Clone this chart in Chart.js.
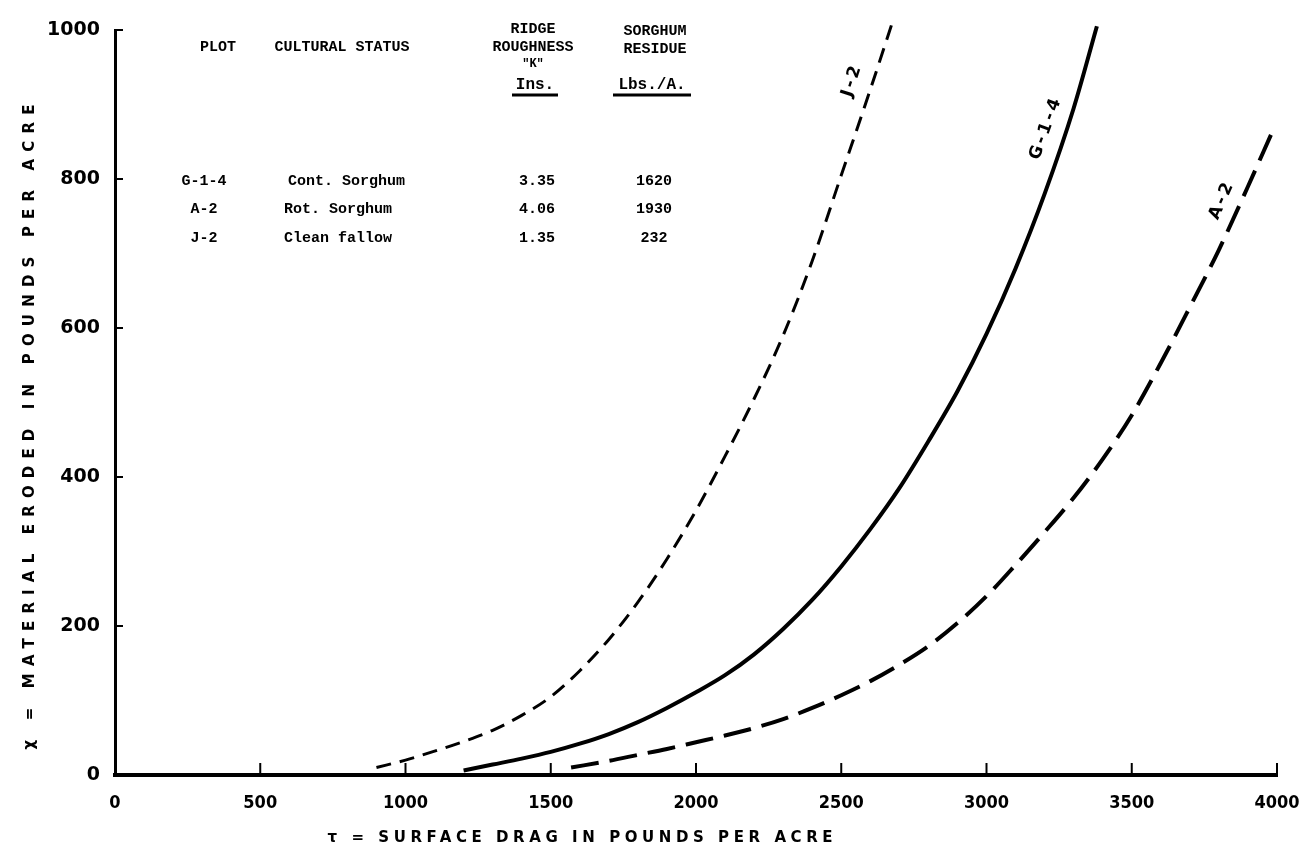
<!DOCTYPE html>
<html>
<head>
<meta charset="utf-8">
<title>Material eroded vs surface drag</title>
<script src="https://cdn.jsdelivr.net/npm/chart.js@4.4.1/dist/chart.umd.min.js"></script>
<style>
    body { margin: 0; background: #fff; }
    #wrap { width: 1304px; height: 855px; position: relative; }
</style>
</head>
<body>
<div id="wrap"><canvas id="erosionChart"></canvas></div>
<script>
// axis ticks
var xTickValues = [0, 500, 1000, 1500, 2000, 2500, 3000, 3500, 4000];
var yTickValues = [0, 200, 400, 600, 800, 1000];

// J-2 clean fallow (short dashes)
var j2Drag = [900, 1000, 1100, 1200, 1300, 1400, 1500, 1600, 1700, 1800, 1900, 2000, 2100, 2200, 2300, 2400, 2500, 2600, 2680];
var j2Eroded = [10, 20, 32, 45, 60, 80, 105, 140, 182, 232, 290, 355, 428, 505, 590, 690, 805, 920, 1015];

// G-1-4 cont. sorghum (solid)
var g14Drag = [1200, 1300, 1400, 1500, 1600, 1700, 1800, 1900, 2000, 2100, 2200, 2300, 2400, 2500, 2600, 2700, 2800, 2900, 3000, 3100, 3200, 3300, 3380];
var g14Eroded = [6, 14, 22, 31, 42, 55, 71, 90, 111, 134, 162, 196, 235, 280, 330, 385, 448, 515, 592, 680, 780, 895, 1005];

// A-2 rot. sorghum (long dashes)
var a2Drag = [1570, 1700, 1800, 1900, 2000, 2100, 2200, 2300, 2400, 2500, 2600, 2700, 2800, 2900, 3000, 3100, 3200, 3300, 3400, 3500, 3600, 3700, 3800, 3900, 3980];
var a2Eroded = [10, 19, 27, 35, 44, 53, 63, 75, 90, 107, 126, 148, 173, 204, 240, 282, 326, 372, 424, 483, 553, 628, 705, 790, 860];

// table in the upper left
var tablePlots = ['G-1-4', 'A-2', 'J-2'];
var tableStatus = ['Cont. Sorghum', 'Rot. Sorghum', 'Clean fallow'];
var tableRoughness = ['3.35', '4.06', '1.35'];
var tableResidue = ['1620', '1930', '232'];

function toPoints(xs, ys) {
    var pts = [];
    for (var i = 0; i < xs.length; i++) {
        pts.push({ x: xs[i], y: ys[i] });
    }
    return pts;
}

// text with spacing stretched to a given width
function spacedText(ctx, text, x, y, width) {
    ctx.letterSpacing = '0px';
    var w = ctx.measureText(text).width;
    var sp = (width - w) / (text.length - 1);
    ctx.letterSpacing = sp + 'px';
    ctx.textAlign = 'left';
    ctx.fillText(text, x - width / 2, y);
    ctx.letterSpacing = '0px';
}

function rotatedLabel(ctx, text, x, y, angle) {
    ctx.save();
    ctx.translate(x, y);
    ctx.rotate(angle * Math.PI / 180);
    ctx.textAlign = 'center';
    ctx.textBaseline = 'middle';
    ctx.letterSpacing = '3px';
    ctx.fillText(text, 0, 0);
    ctx.restore();
}

var paperDecor = {
    id: 'paperDecor',
    afterDraw: function (chart) {
        var ctx = chart.ctx;
        var xs = chart.scales.x;
        var ys = chart.scales.y;
        var area = chart.chartArea;
        ctx.save();
        ctx.strokeStyle = '#000';
        ctx.fillStyle = '#000';

        // inward tick marks
        ctx.lineWidth = 2;
        yTickValues.forEach(function (v) {
            if (v === 0) return;
            var py = ys.getPixelForValue(v);
            ctx.beginPath();
            ctx.moveTo(area.left, py);
            ctx.lineTo(area.left + 8, py);
            ctx.stroke();
        });
        xTickValues.forEach(function (v) {
            if (v === 0) return;
            var px = xs.getPixelForValue(v);
            ctx.beginPath();
            ctx.moveTo(px, area.bottom);
            ctx.lineTo(px, area.bottom - 12);
            ctx.stroke();
        });

        // axis titles
        ctx.font = 'bold 15px "DejaVu Sans"';
        ctx.textBaseline = 'middle';
        spacedText(ctx, '\u03C4 = SURFACE DRAG IN POUNDS PER ACRE', 580, 838, 505);
        ctx.save();
        ctx.translate(30, 427);
        ctx.rotate(-Math.PI / 2);
        spacedText(ctx, '\u03C7 = MATERIAL ERODED IN POUNDS PER ACRE', 0, 0, 645);
        ctx.restore();

        // table headers
        ctx.textAlign = 'center';
        ctx.font = 'bold 15px "Liberation Mono"';
        ctx.fillText('PLOT', 218, 47);
        ctx.fillText('CULTURAL STATUS', 342, 47);
        ctx.fillText('RIDGE', 533, 29);
        ctx.fillText('ROUGHNESS', 533, 47);
        ctx.fillText('SORGHUM', 655, 31);
        ctx.fillText('RESIDUE', 655, 49);
        ctx.font = 'bold 12px "Liberation Mono"';
        ctx.fillText('"K"', 533, 64);
        ctx.font = 'bold 16px "Liberation Mono"';
        ctx.fillText('Ins.', 535, 85);
        ctx.fillText('Lbs./A.', 652, 85);
        ctx.lineWidth = 3;
        ctx.beginPath();
        ctx.moveTo(512, 95); ctx.lineTo(558, 95);
        ctx.moveTo(613, 95); ctx.lineTo(691, 95);
        ctx.stroke();

        // table rows
        ctx.font = 'bold 15px "Liberation Mono"';
        var rowY = [181, 209, 238];
        for (var i = 0; i < tablePlots.length; i++) {
            ctx.textAlign = 'center';
            ctx.fillText(tablePlots[i], 204, rowY[i]);
            ctx.textAlign = 'left';
            ctx.fillText(tableStatus[i], i === 0 ? 288 : 284, rowY[i]);
            ctx.textAlign = 'center';
            ctx.fillText(tableRoughness[i], 537, rowY[i]);
            ctx.fillText(tableResidue[i], 654, rowY[i]);
        }

        // curve labels
        ctx.font = 'bold 17px "DejaVu Sans"';
        rotatedLabel(ctx, 'J-2', 852, 80, -72);
        rotatedLabel(ctx, 'G-1-4', 1046, 128, -70);
        rotatedLabel(ctx, 'A-2', 1222, 200, -66);

        ctx.restore();
    }
};

var ctx = document.getElementById('erosionChart');
var erosionChart = new Chart(ctx, {
    type: 'scatter',
    data: {
        datasets: [{
            label: 'J-2',
            data: toPoints(j2Drag, j2Eroded),
            showLine: true,
            borderColor: '#000',
            borderWidth: 3,
            borderDash: [15, 9],
            pointRadius: 0,
            cubicInterpolationMode: 'monotone',
            clip: false
        }, {
            label: 'G-1-4',
            data: toPoints(g14Drag, g14Eroded),
            showLine: true,
            borderColor: '#000',
            borderWidth: 4,
            pointRadius: 0,
            cubicInterpolationMode: 'monotone',
            clip: false
        }, {
            label: 'A-2',
            data: toPoints(a2Drag, a2Eroded),
            showLine: true,
            borderColor: '#000',
            borderWidth: 4,
            borderDash: [28, 11],
            pointRadius: 0,
            cubicInterpolationMode: 'monotone',
            clip: false
        }]
    },
    options: {
        responsive: true,
        maintainAspectRatio: false,
        animation: false,
        layout: {
            padding: { left: 0, right: 27, top: 30, bottom: 0 }
        },
        plugins: {
            legend: { display: false },
            tooltip: { enabled: false }
        },
        scales: {
            x: {
                type: 'linear',
                min: 0,
                max: 4000,
                afterBuildTicks: function (scale) {
                    scale.ticks = xTickValues.map(function (v) { return { value: v }; });
                },
                afterFit: function (scale) {
                    scale.height = 80;
                    scale.paddingLeft = 0;
                    scale.paddingRight = 0;
                },
                ticks: {
                    color: '#000',
                    padding: 18,
                    maxRotation: 0,
                    callback: function (value) { return String(value); },
                    font: { family: '"Liberation Sans Narrow", "DejaVu Sans Condensed", sans-serif', size: 18, weight: 'bold' }
                },
                grid: { display: false, drawTicks: false },
                border: { display: true, color: '#000', width: 4 }
            },
            y: {
                min: 0,
                max: 1000,
                afterBuildTicks: function (scale) {
                    scale.ticks = yTickValues.map(function (v) { return { value: v }; });
                },
                afterFit: function (scale) {
                    scale.width = 115;
                    scale.paddingTop = 0;
                    scale.paddingBottom = 0;
                },
                ticks: {
                    color: '#000',
                    padding: 15,
                    callback: function (value) { return String(value); },
                    font: { family: '"DejaVu Sans"', size: 19, weight: 'bold' }
                },
                grid: { display: false, drawTicks: false },
                border: { display: true, color: '#000', width: 3 }
            }
        }
    },
    plugins: [paperDecor]
});
</script>
</body>
</html>
